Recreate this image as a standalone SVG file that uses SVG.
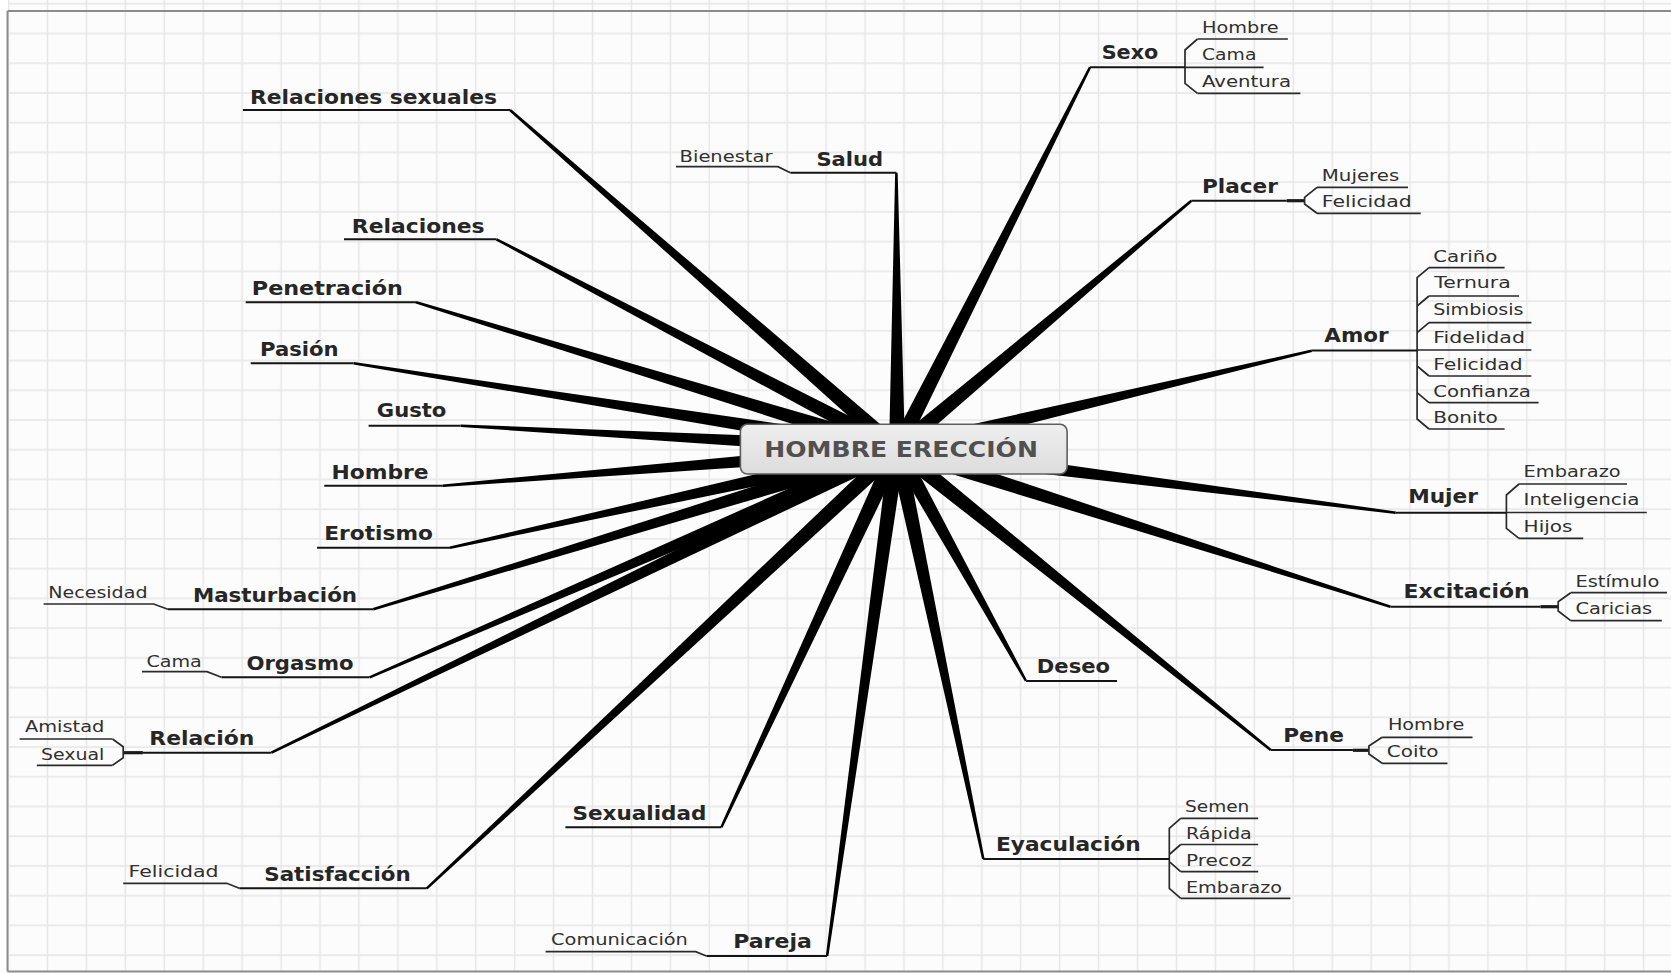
<svg xmlns="http://www.w3.org/2000/svg" width="1671" height="973" viewBox="0 0 1671 973">
  <defs>
    <!-- sheet grid: columns every 38.93px, rows every 29.73px -->
    <pattern id="grid" x="28.035" y="18.635" width="38.93" height="29.73" patternUnits="userSpaceOnUse">
      <path d="M19.465 0V29.73M0 14.865H38.93" fill="none" stroke="#e6e6e6" stroke-width="1.5"/>
    </pattern>
    <linearGradient id="rootFill" x1="0" y1="0" x2="0" y2="1">
      <stop offset="0" stop-color="#efefef"/>
      <stop offset="1" stop-color="#dcdcdc"/>
    </linearGradient>
    <style>
      .m { font-family: "DejaVu Sans", "Liberation Sans", sans-serif; font-weight: bold; font-size: 19px; fill: #262626; }
      .s { font-family: "DejaVu Sans", "Liberation Sans", sans-serif; font-size: 15.5px; fill: #303030; }
      .ul { fill: none; stroke: #141414; stroke-width: 2; }
      .su { fill: none; stroke: #2a2a2a; stroke-width: 1.7; }
      .cn { fill: none; stroke: #1a1a1a; stroke-width: 3.2; }
      .spoke { fill: #000; }
      .root-box { fill: url(#rootFill); stroke: #5e5e5e; stroke-width: 1.6; }
      .root-text { font-family: "DejaVu Sans", "Liberation Sans", sans-serif; font-weight: bold; font-size: 21px; fill: #505050; }
    </style>
  </defs>

  <!-- sheet -->
  <rect x="0" y="0" width="1671" height="973" fill="#ffffff"/>
  <rect x="8" y="0" width="1663" height="971" fill="#fcfcfc"/>
  <rect x="8" y="0" width="1663" height="971" fill="url(#grid)"/>
  <path d="M7.5 11V971.5M7.5 11H1671M7.5 971.5H1671" fill="none" stroke="#8c8c8c" stroke-width="2"/>

  <!-- tapered branches from the central topic -->
  <g id="connectors">
    <polygon class="spoke" points="902.27,442.98 510.82,109.06 509.18,110.94 891.73,455.02"/>
    <polygon class="spoke" points="900.71,441.91 496.98,238.19 495.82,240.41 893.29,456.09"/>
    <polygon class="spoke" points="899.33,441.35 416.36,301.1 415.64,303.5 894.67,456.65"/>
    <polygon class="spoke" points="898.25,441.1 353.79,362.07 353.41,364.53 895.75,456.9"/>
    <polygon class="spoke" points="897.43,441.01 460.77,424.45 460.63,426.95 896.57,456.99"/>
    <polygon class="spoke" points="896.36,441.03 442.8,484.45 443.0,486.95 897.64,456.97"/>
    <polygon class="spoke" points="895.28,441.19 449.73,546.48 450.27,548.92 898.72,456.81"/>
    <polygon class="spoke" points="894.66,441.35 372.83,608.1 373.57,610.5 899.34,456.65"/>
    <polygon class="spoke" points="893.82,441.66 369.1,676.15 370.1,678.45 900.18,456.34"/>
    <polygon class="spoke" points="893.51,441.8 270.85,751.58 271.95,753.82 900.49,456.2"/>
    <polygon class="spoke" points="891.54,443.15 425.95,887.39 427.65,889.21 902.46,454.85"/>
    <polygon class="spoke" points="889.74,445.63 720.27,826.77 722.53,827.83 904.26,452.37"/>
    <polygon class="spoke" points="889.08,447.91 825.86,955.83 828.34,956.17 904.92,450.09"/>
    <polygon class="spoke" points="905,449 897.65,172.7 895.15,172.7 889,449"/>
    <polygon class="spoke" points="904.14,452.61 1091.12,67.86 1088.88,66.74 889.86,445.39"/>
    <polygon class="spoke" points="902.16,455.12 1192.21,201.66 1190.59,199.74 891.84,442.88"/>
    <polygon class="spoke" points="898.84,456.78 1312.09,351.92 1311.51,349.48 895.16,441.22"/>
    <polygon class="spoke" points="895.99,456.94 1395.54,513.94 1395.86,511.46 898.01,441.06"/>
    <polygon class="spoke" points="894.56,456.62 1390.02,607.89 1390.78,605.51 899.44,441.38"/>
    <polygon class="spoke" points="890.01,452.89 1024.91,681.61 1027.09,680.39 903.99,445.11"/>
    <polygon class="spoke" points="891.98,455.23 1269.92,750.97 1271.48,749.03 902.02,442.77"/>
    <polygon class="spoke" points="889.17,450.65 982.08,859.26 984.52,858.74 904.83,447.35"/>

    <!-- joins between topics and their subtopic brackets -->
    <path class="cn" d="M123.2 752.7H142.9"/>
    <path class="cn" d="M1286.8 200.7H1304.6"/>
    <path class="cn" d="M1540.4 606.7H1558.2"/>
    <path class="cn" d="M1352.9 750.3H1368.9"/>

    <!-- subtopic brackets -->
    <path class="su" d="M112.5 739L123.2 746.7V757.7L112.5 765.3"/>
    <path class="su" d="M1197.5 39L1185 50V83.3L1197.5 93.3"/>
    <path class="su" d="M1317 187.3L1304.6 197.3V204L1317 213.3"/>
    <path class="su" d="M1429 267.7L1417.1 277.7V419L1429 429M1417.1 306L1429 296M1417.1 332.7L1429 322.7M1417.1 366L1429 376M1417.1 392.7L1429 402.7"/>
    <path class="su" d="M1519 484L1506.4 495V528.3L1519 538.3"/>
    <path class="su" d="M1570.7 592.7L1558.2 601.7V611L1570.7 620.7"/>
    <path class="su" d="M1382.1 737.3L1368.9 746V754L1382.1 763.3"/>
    <path class="su" d="M1180.7 818.3L1169.3 828.3V888.3L1180.7 898.3M1169.3 854.5L1180.7 844.5M1169.3 861.7L1180.7 871.7"/>
  </g>

  <!-- central topic -->
  <g id="hombre-ereccion">
    <rect class="root-box" x="740.4" y="424.3" width="326.7" height="49.7" rx="7"/>
    <text class="root-text" x="764.3" y="457.3" textLength="273.6" lengthAdjust="spacingAndGlyphs">HOMBRE ERECCIÓN</text>
  </g>

  <!-- left-hand topics -->
  <g id="relaciones-sexuales">
    <path class="ul" d="M242.9 110H510"/>
    <text class="m" x="250" y="104" textLength="247" lengthAdjust="spacingAndGlyphs">Relaciones sexuales</text>
  </g>
  <g id="relaciones">
    <path class="ul" d="M344 239.3H496.4"/>
    <text class="m" x="351.8" y="233.3" textLength="132.8" lengthAdjust="spacingAndGlyphs">Relaciones</text>
  </g>
  <g id="penetracion">
    <path class="ul" d="M245.7 302.3H416"/>
    <text class="m" x="251.8" y="295" textLength="151.1" lengthAdjust="spacingAndGlyphs">Penetración</text>
  </g>
  <g id="pasion">
    <path class="ul" d="M250.7 363.3H353.6"/>
    <text class="m" x="260" y="356" textLength="78.6" lengthAdjust="spacingAndGlyphs">Pasión</text>
  </g>
  <g id="gusto">
    <path class="ul" d="M368.6 425.7H460.7"/>
    <text class="m" x="376.8" y="417.3" textLength="69.6" lengthAdjust="spacingAndGlyphs">Gusto</text>
  </g>
  <g id="hombre">
    <path class="ul" d="M324.3 485.7H442.9"/>
    <text class="m" x="331.4" y="478.7" textLength="97.2" lengthAdjust="spacingAndGlyphs">Hombre</text>
  </g>
  <g id="erotismo">
    <path class="ul" d="M317 547.7H450"/>
    <text class="m" x="324.3" y="540" textLength="108.6" lengthAdjust="spacingAndGlyphs">Erotismo</text>
  </g>
  <g id="masturbacion">
    <path class="ul" d="M167.9 609.3H373.2"/>
    <text class="m" x="192.9" y="601.7" textLength="164.2" lengthAdjust="spacingAndGlyphs">Masturbación</text>
  </g>
  <g id="masturbacion-necesidad">
    <path class="su" d="M43.6 604H153.6L167.9 609.3"/>
    <text class="s" x="48.2" y="597.7" textLength="99.3" lengthAdjust="spacingAndGlyphs">Necesidad</text>
  </g>
  <g id="orgasmo">
    <path class="ul" d="M221.4 677.3H369.6"/>
    <text class="m" x="246.4" y="670" textLength="107.2" lengthAdjust="spacingAndGlyphs">Orgasmo</text>
  </g>
  <g id="orgasmo-cama">
    <path class="su" d="M142 671.7H207L221.4 677.3"/>
    <text class="s" x="146.4" y="666.7" textLength="55.4" lengthAdjust="spacingAndGlyphs">Cama</text>
  </g>
  <g id="relacion">
    <path class="ul" d="M142.9 752.7H271.4"/>
    <text class="m" x="149.3" y="745" textLength="105" lengthAdjust="spacingAndGlyphs">Relación</text>
  </g>
  <g id="relacion-amistad">
    <path class="su" d="M19.6 739H112.5"/>
    <text class="s" x="25" y="732.3" textLength="79.3" lengthAdjust="spacingAndGlyphs">Amistad</text>
  </g>
  <g id="relacion-sexual">
    <path class="su" d="M36.8 765.3H112.5"/>
    <text class="s" x="41" y="760" textLength="63.3" lengthAdjust="spacingAndGlyphs">Sexual</text>
  </g>
  <g id="satisfaccion">
    <path class="ul" d="M239.3 888.3H426.8"/>
    <text class="m" x="264.3" y="880.7" textLength="146.4" lengthAdjust="spacingAndGlyphs">Satisfacción</text>
  </g>
  <g id="satisfaccion-felicidad">
    <path class="su" d="M123.2 883.3H226.8L239.3 888.3"/>
    <text class="s" x="128.6" y="877.3" textLength="90" lengthAdjust="spacingAndGlyphs">Felicidad</text>
  </g>

  <!-- lower topics -->
  <g id="sexualidad">
    <path class="ul" d="M565.4 827.3H721.4"/>
    <text class="m" x="572.5" y="820" textLength="133.9" lengthAdjust="spacingAndGlyphs">Sexualidad</text>
  </g>
  <g id="pareja">
    <path class="ul" d="M706.4 956H827.1"/>
    <text class="m" x="733.2" y="948.3" textLength="78.6" lengthAdjust="spacingAndGlyphs">Pareja</text>
  </g>
  <g id="pareja-comunicacion">
    <path class="su" d="M545.6 951.7H695.7L706.4 956"/>
    <text class="s" x="551" y="945" textLength="136.9" lengthAdjust="spacingAndGlyphs">Comunicación</text>
  </g>
  <g id="deseo">
    <path class="ul" d="M1026 681H1117"/>
    <text class="m" x="1036.8" y="673.3" textLength="73.2" lengthAdjust="spacingAndGlyphs">Deseo</text>
  </g>
  <g id="eyaculacion">
    <path class="ul" d="M983.3 859H1169.3"/>
    <text class="m" x="996" y="851" textLength="144.7" lengthAdjust="spacingAndGlyphs">Eyaculación</text>
  </g>
  <g id="eyaculacion-semen">
    <path class="su" d="M1180.7 818.3H1258.2"/>
    <text class="s" x="1185" y="811.7" textLength="64.3" lengthAdjust="spacingAndGlyphs">Semen</text>
  </g>
  <g id="eyaculacion-rapida">
    <path class="su" d="M1180.7 844.5H1258.2"/>
    <text class="s" x="1186" y="839.3" textLength="65.8" lengthAdjust="spacingAndGlyphs">Rápida</text>
  </g>
  <g id="eyaculacion-precoz">
    <path class="su" d="M1180.7 871.7H1258.2"/>
    <text class="s" x="1186" y="866" textLength="65.8" lengthAdjust="spacingAndGlyphs">Precoz</text>
  </g>
  <g id="eyaculacion-embarazo">
    <path class="su" d="M1180.7 898.3H1290.4"/>
    <text class="s" x="1186" y="892.7" textLength="96" lengthAdjust="spacingAndGlyphs">Embarazo</text>
  </g>

  <!-- upper topics -->
  <g id="salud">
    <path class="ul" d="M790.4 172.7H896.4"/>
    <text class="m" x="816.4" y="165.7" textLength="66.8" lengthAdjust="spacingAndGlyphs">Salud</text>
  </g>
  <g id="salud-bienestar">
    <path class="su" d="M676 166.7H777.9L790.4 172.7"/>
    <text class="s" x="679.6" y="161.7" textLength="92.9" lengthAdjust="spacingAndGlyphs">Bienestar</text>
  </g>
  <g id="sexo">
    <path class="ul" d="M1090 67.3H1185"/>
    <text class="m" x="1101.7" y="59.3" textLength="56.6" lengthAdjust="spacingAndGlyphs">Sexo</text>
  </g>
  <g id="sexo-hombre">
    <path class="su" d="M1197.5 39H1287.9"/>
    <text class="s" x="1202" y="33.3" textLength="76.6" lengthAdjust="spacingAndGlyphs">Hombre</text>
  </g>
  <g id="sexo-cama">
    <path class="su" d="M1185 67.3H1263.6"/>
    <text class="s" x="1202" y="60" textLength="54.4" lengthAdjust="spacingAndGlyphs">Cama</text>
  </g>
  <g id="sexo-aventura">
    <path class="su" d="M1197.5 93.3H1300.4"/>
    <text class="s" x="1202" y="86.7" textLength="89" lengthAdjust="spacingAndGlyphs">Aventura</text>
  </g>

  <!-- right-hand topics -->
  <g id="placer">
    <path class="ul" d="M1191.4 200.7H1286.8"/>
    <text class="m" x="1202" y="192.7" textLength="75.9" lengthAdjust="spacingAndGlyphs">Placer</text>
  </g>
  <g id="placer-mujeres">
    <path class="su" d="M1317 187.3H1408"/>
    <text class="s" x="1321.8" y="181" textLength="77.5" lengthAdjust="spacingAndGlyphs">Mujeres</text>
  </g>
  <g id="placer-felicidad">
    <path class="su" d="M1317 213.3H1420.7"/>
    <text class="s" x="1321.8" y="207.3" textLength="90" lengthAdjust="spacingAndGlyphs">Felicidad</text>
  </g>
  <g id="amor">
    <path class="ul" d="M1311.8 350.5H1417.1"/>
    <text class="m" x="1324.3" y="341.7" textLength="64.3" lengthAdjust="spacingAndGlyphs">Amor</text>
  </g>
  <g id="amor-carino">
    <path class="su" d="M1429 267.7H1504.6"/>
    <text class="s" x="1433.2" y="261.7" textLength="64.3" lengthAdjust="spacingAndGlyphs">Cariño</text>
  </g>
  <g id="amor-ternura">
    <path class="su" d="M1429 296H1519"/>
    <text class="s" x="1434.3" y="288.3" textLength="76.4" lengthAdjust="spacingAndGlyphs">Ternura</text>
  </g>
  <g id="amor-simbiosis">
    <path class="su" d="M1429 322.7H1531.4"/>
    <text class="s" x="1433.2" y="315" textLength="90.4" lengthAdjust="spacingAndGlyphs">Simbiosis</text>
  </g>
  <g id="amor-fidelidad">
    <path class="su" d="M1417.1 350H1531.4"/>
    <text class="s" x="1433.2" y="343.3" textLength="91.8" lengthAdjust="spacingAndGlyphs">Fidelidad</text>
  </g>
  <g id="amor-felicidad">
    <path class="su" d="M1429 376H1531.4"/>
    <text class="s" x="1433.2" y="370" textLength="89.5" lengthAdjust="spacingAndGlyphs">Felicidad</text>
  </g>
  <g id="amor-confianza">
    <path class="su" d="M1429 402.7H1538.6"/>
    <text class="s" x="1433.2" y="396.7" textLength="97.7" lengthAdjust="spacingAndGlyphs">Confianza</text>
  </g>
  <g id="amor-bonito">
    <path class="su" d="M1429 429H1504.6"/>
    <text class="s" x="1433.2" y="422.7" textLength="64.5" lengthAdjust="spacingAndGlyphs">Bonito</text>
  </g>
  <g id="mujer">
    <path class="ul" d="M1395.7 512.7H1506.4"/>
    <text class="m" x="1408.2" y="503.3" textLength="69.7" lengthAdjust="spacingAndGlyphs">Mujer</text>
  </g>
  <g id="mujer-embarazo">
    <path class="su" d="M1519 484H1627"/>
    <text class="s" x="1523.6" y="477.3" textLength="97.1" lengthAdjust="spacingAndGlyphs">Embarazo</text>
  </g>
  <g id="mujer-inteligencia">
    <path class="su" d="M1506.4 512.5H1646.8"/>
    <text class="s" x="1523.6" y="505" textLength="116" lengthAdjust="spacingAndGlyphs">Inteligencia</text>
  </g>
  <g id="mujer-hijos">
    <path class="su" d="M1519 538.3H1583.2"/>
    <text class="s" x="1523.6" y="531.7" textLength="48.9" lengthAdjust="spacingAndGlyphs">Hijos</text>
  </g>
  <g id="excitacion">
    <path class="ul" d="M1390.4 606.7H1540.4"/>
    <text class="m" x="1403.6" y="598.3" textLength="126" lengthAdjust="spacingAndGlyphs">Excitación</text>
  </g>
  <g id="excitacion-estimulo">
    <path class="su" d="M1570.7 592.7H1667"/>
    <text class="s" x="1575.4" y="586.7" textLength="83.9" lengthAdjust="spacingAndGlyphs">Estímulo</text>
  </g>
  <g id="excitacion-caricias">
    <path class="su" d="M1570.7 620.7H1661.8"/>
    <text class="s" x="1575.4" y="614" textLength="76.7" lengthAdjust="spacingAndGlyphs">Caricias</text>
  </g>
  <g id="pene">
    <path class="ul" d="M1270.7 750H1352.9"/>
    <text class="m" x="1283.2" y="741.7" textLength="60.7" lengthAdjust="spacingAndGlyphs">Pene</text>
  </g>
  <g id="pene-hombre">
    <path class="su" d="M1382.1 737.3H1472.5"/>
    <text class="s" x="1387.9" y="730" textLength="76.4" lengthAdjust="spacingAndGlyphs">Hombre</text>
  </g>
  <g id="pene-coito">
    <path class="su" d="M1382.1 763.3H1447.5"/>
    <text class="s" x="1386.8" y="756.7" textLength="51.8" lengthAdjust="spacingAndGlyphs">Coito</text>
  </g>
</svg>
